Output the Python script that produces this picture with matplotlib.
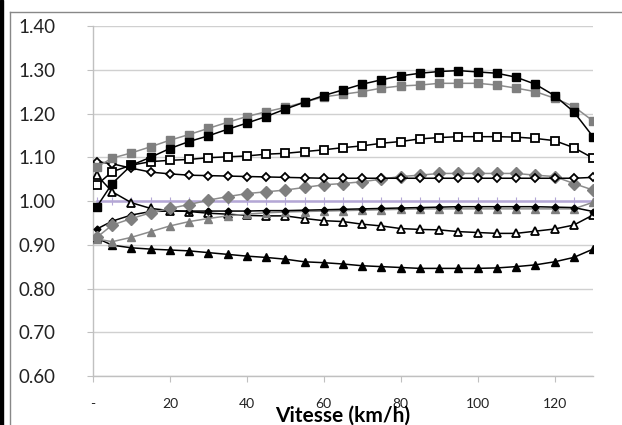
import matplotlib
matplotlib.use("Agg")
import matplotlib.pyplot as plt
from matplotlib.lines import Line2D
from matplotlib.patches import Rectangle

speeds = [1] + list(range(5, 131, 5))

black_squares = [0.987, 1.040, 1.082, 1.100, 1.120, 1.136, 1.149, 1.164, 1.178, 1.193, 1.210, 1.226,
                 1.241, 1.254, 1.267, 1.277, 1.286, 1.292, 1.296, 1.298, 1.295, 1.292, 1.283, 1.267,
                 1.241, 1.204, 1.147]
gray_squares = [1.078, 1.098, 1.110, 1.124, 1.139, 1.152, 1.166, 1.180, 1.193, 1.204, 1.214, 1.226,
                1.238, 1.244, 1.250, 1.258, 1.263, 1.265, 1.269, 1.269, 1.269, 1.265, 1.258, 1.250,
                1.235, 1.216, 1.183]
open_squares = [1.037, 1.067, 1.082, 1.090, 1.093, 1.095, 1.099, 1.101, 1.103, 1.107, 1.109, 1.113,
                1.117, 1.122, 1.126, 1.132, 1.136, 1.142, 1.145, 1.147, 1.147, 1.147, 1.146, 1.143,
                1.138, 1.122, 1.098]
open_diamonds = [1.090, 1.085, 1.075, 1.066, 1.062, 1.059, 1.058, 1.057, 1.056, 1.055, 1.054, 1.053,
                 1.052, 1.052, 1.052, 1.052, 1.052, 1.052, 1.052, 1.052, 1.052, 1.052, 1.052, 1.052,
                 1.052, 1.052, 1.054]
gray_diamonds = [0.917, 0.945, 0.960, 0.973, 0.983, 0.992, 1.002, 1.010, 1.017, 1.021, 1.025, 1.031,
                 1.037, 1.040, 1.044, 1.050, 1.056, 1.059, 1.063, 1.063, 1.063, 1.063, 1.063, 1.059,
                 1.056, 1.040, 1.025]
black_diamonds = [0.936, 0.954, 0.968, 0.976, 0.977, 0.977, 0.977, 0.977, 0.977, 0.978, 0.978, 0.979,
                  0.980, 0.981, 0.982, 0.983, 0.984, 0.985, 0.986, 0.987, 0.987, 0.987, 0.987, 0.987,
                  0.986, 0.985, 0.976]
gray_triangles = [0.913, 0.907, 0.917, 0.930, 0.943, 0.953, 0.960, 0.966, 0.970, 0.973, 0.975, 0.976,
                  0.977, 0.978, 0.979, 0.980, 0.981, 0.982, 0.982, 0.982, 0.982, 0.982, 0.982, 0.982,
                  0.982, 0.982, 0.997]
open_triangles = [1.059, 1.021, 0.996, 0.983, 0.978, 0.976, 0.972, 0.970, 0.967, 0.966, 0.966, 0.960,
                  0.955, 0.953, 0.947, 0.943, 0.937, 0.935, 0.934, 0.930, 0.928, 0.926, 0.926, 0.931,
                  0.936, 0.945, 0.968]
black_triangles = [0.915, 0.899, 0.893, 0.890, 0.888, 0.886, 0.882, 0.878, 0.874, 0.871, 0.867, 0.861,
                   0.859, 0.856, 0.852, 0.850, 0.848, 0.846, 0.846, 0.846, 0.846, 0.847, 0.850, 0.854,
                   0.861, 0.871, 0.890]
reference = [1.0] * len(speeds)

x_ticks = [0, 20, 40, 60, 80, 100, 120]
x_tick_labels = ["-", "20", "40", "60", "80", "100", "120"]
y_ticks = [0.60, 0.70, 0.80, 0.90, 1.00, 1.10, 1.20, 1.30, 1.40]
x_title = "Vitesse (km/h)"

plt.rcParams['font.family'] = ['Lato', 'DejaVu Sans']

fig = plt.figure(figsize=(6.22, 4.25), dpi=100)
ax = fig.add_axes([93 / 622, 1 - 376 / 425, 500 / 622, 350 / 425])

lw = 1.1
ax.plot(speeds, reference, color='#b4a7d6', lw=1.8, marker='|', ms=6, mew=0.8, zorder=2)
ax.plot(speeds, black_triangles, color='black', lw=lw, marker='^', ms=5.5, mfc='black', mec='black', zorder=3)
ax.plot(speeds, open_triangles, color='black', lw=lw, marker='^', ms=5.5, mfc='white', mec='black', mew=1.3, zorder=3)
ax.plot(speeds, gray_triangles, color='#8c8c8c', lw=lw, marker='^', ms=6, mfc='#7f7f7f', mec='#7f7f7f', zorder=3)
ax.plot(speeds, black_diamonds, color='black', lw=lw, marker='D', ms=3.5, mfc='black', mec='black', zorder=3)
ax.plot(speeds, gray_diamonds, color='#8c8c8c', lw=lw, marker='D', ms=6, mfc='#7f7f7f', mec='#7f7f7f', zorder=3)
ax.plot(speeds, open_diamonds, color='black', lw=lw, marker='D', ms=4.2, mfc='white', mec='black', mew=1.3, zorder=4)
ax.plot(speeds, open_squares, color='black', lw=lw, marker='s', ms=5.5, mfc='white', mec='black', mew=1.3, zorder=4)
ax.plot(speeds, gray_squares, color='#8c8c8c', lw=lw, marker='s', ms=6.3, mfc='#7f7f7f', mec='#7f7f7f', zorder=4)
ax.plot(speeds, black_squares, color='black', lw=lw, marker='s', ms=6.3, mfc='black', mec='black', zorder=5)

ax.set_xlim(0, 130)
ax.set_ylim(0.60, 1.40)
ax.set_xticks(x_ticks)
ax.set_xticklabels(x_tick_labels, fontsize=10, color='#222222')
ax.set_yticks(y_ticks)
ax.set_yticklabels([f"{v:.2f}" for v in y_ticks], fontsize=13.5, color='#222222')
ax.grid(axis='y', color='#d0d0d0', lw=1.0)
ax.set_axisbelow(True)
for s in ['top', 'right']:
    ax.spines[s].set_visible(False)
for s in ['left', 'bottom']:
    ax.spines[s].set_color('#c0c0c0')
    ax.spines[s].set_linewidth(1.0)
ax.tick_params(axis='x', direction='out', length=4, color='#c0c0c0', pad=12)
ax.tick_params(axis='y', direction='out', length=4, color='#c0c0c0', pad=23)

fig.text(343 / 622, 1 - 421.5 / 425, x_title, fontsize=15, fontweight='bold',
         ha='center', va='baseline', color='black')

# chart-area border
fig.add_artist(Line2D([9.5 / 622, 9.5 / 622], [0, 1 - 11.5 / 425], color='#888888', lw=1.0,
                      transform=fig.transFigure))
fig.add_artist(Line2D([9.5 / 622, 1], [1 - 11.5 / 425, 1 - 11.5 / 425], color='#888888', lw=1.0,
                      transform=fig.transFigure))
fig.add_artist(Rectangle((0, 0), 3 / 622, 1, color='black', transform=fig.transFigure))

fig.savefig("out.png", dpi=100)
